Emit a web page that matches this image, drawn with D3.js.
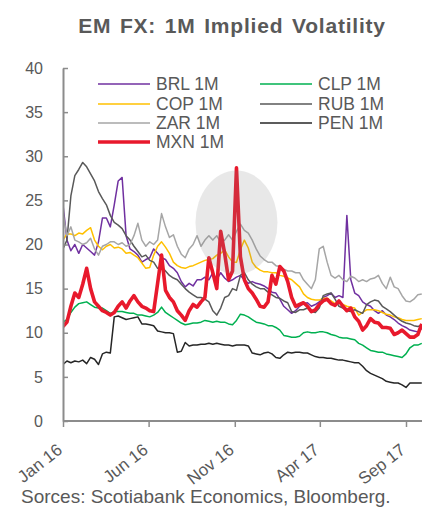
<!DOCTYPE html>
<html><head><meta charset="utf-8">
<script src="https://cdn.jsdelivr.net/npm/d3@7"></script>
<style>body{margin:0;background:#fff} text{font-family:"Liberation Sans",Arial,sans-serif}</style>
</head><body><svg id="c" width="422" height="508"></svg>
<script>
// ---- data ----
const seriesNames = ["BRL 1M","CLP 1M","COP 1M","RUB 1M","ZAR 1M","PEN 1M","MXN 1M"];
const seriesColors = ["#7030A0","#00B050","#FFC000","#595959","#A6A6A6","#262626","#E8192C"];
const startDate = "2016-01-01"; // weekly observations
const brl = [24.5,20.5,19.3,20.0,19.0,20.0,19.6,19.2,18.8,20.3,23.0,23.0,22.0,24.5,27.2,27.6,21.0,19.5,19.2,18.8,18.0,18.3,18.5,19.5,19.0,18.5,18.3,17.6,17.3,16.8,15.8,15.2,15.6,15.3,16.0,16.0,16.3,16.0,16.8,16.0,16.8,16.2,15.8,16.0,16.3,16.5,16.0,15.6,15.8,15.6,15.5,15.3,15.0,14.6,14.5,13.8,13.0,12.6,12.2,12.5,13.0,13.3,13.4,13.0,13.2,13.5,14.0,14.2,14.5,14.0,14.2,14.0,23.3,16.0,14.5,14.2,13.5,13.2,13.0,12.5,12.2,12.5,12.0,11.8,11.5,11.1,10.8,10.6,10.3,10.2,10.1,10.5];
const clp = [11.2,11.5,12.3,12.9,13.3,13.4,13.5,13.2,12.9,12.8,12.8,12.5,12.2,12.4,12.4,12.4,12.3,12.2,12.2,12.0,12.0,11.9,11.8,12.0,12.3,12.9,12.3,12.0,11.7,11.4,11.1,10.9,11.0,11.1,11.1,11.2,11.4,11.3,11.2,11.3,11.2,11.2,11.0,10.9,11.4,12.1,12.0,11.8,11.5,11.2,11.1,11.0,10.8,10.8,10.6,10.3,9.7,9.6,9.5,9.5,9.6,10.0,10.1,10.0,10.0,10.1,10.1,10.0,9.8,9.7,9.5,9.4,9.4,9.3,9.2,8.8,8.6,8.3,8.0,7.9,7.8,7.8,7.6,7.5,7.4,7.3,7.2,7.6,8.3,8.6,8.6,8.8];
const cop = [20.5,21.2,21.2,21.0,21.3,21.2,21.6,21.9,20.5,19.8,19.4,19.8,20.0,19.6,19.7,19.5,19.0,19.1,18.8,18.5,17.9,17.3,17.4,18.8,19.8,20.3,19.7,19.0,18.0,17.6,17.4,17.3,17.5,17.6,17.8,18.0,18.2,18.3,18.4,18.8,19.0,19.4,18.6,18.0,18.0,19.4,20.5,19.6,18.0,17.4,17.1,16.9,16.9,16.8,16.8,16.5,16.4,16.2,16.0,15.6,15.2,14.4,14.0,13.8,13.7,13.7,13.9,13.9,13.6,13.3,13.4,13.2,13.0,12.9,12.8,12.0,12.3,12.6,12.6,12.6,12.5,12.3,12.1,12.0,11.8,11.7,11.5,11.4,11.4,11.4,11.5,11.6];
const rub = [19.5,20.5,25.5,27.8,28.5,29.3,28.8,28.0,27.2,26.0,25.2,24.5,23.3,22.5,22.2,21.8,21.0,20.5,19.8,19.2,18.6,18.8,18.2,18.0,17.3,17.5,17.0,16.5,16.2,16.0,15.5,15.0,14.6,14.3,14.0,14.0,13.8,13.5,12.5,12.0,12.8,14.0,14.2,15.0,14.8,16.5,16.8,16.0,15.5,15.2,15.0,15.0,14.6,14.3,14.0,13.9,13.6,13.4,12.4,12.3,12.6,12.6,12.8,12.4,12.3,12.8,14.2,14.4,14.5,13.8,13.0,12.8,12.5,12.4,12.6,12.4,12.2,13.2,13.5,13.7,13.6,13.0,12.7,12.4,12.0,11.6,11.3,11.1,11.0,10.8,10.7,10.9];
const zar = [23.5,21.0,22.0,20.5,20.3,20.0,20.2,20.7,19.5,18.8,19.8,20.0,20.3,20.3,20.0,20.2,19.8,20.0,21.0,22.4,20.5,19.8,20.3,20.0,20.5,23.5,22.0,20.8,21.1,19.8,18.9,18.5,19.5,20.0,21.0,19.8,20.5,21.0,20.5,21.0,20.2,20.5,21.1,20.5,21.5,22.3,21.6,21.3,20.5,19.5,18.7,18.3,18.0,18.0,17.6,17.5,17.2,17.0,17.0,16.8,16.8,16.0,15.5,15.0,16.0,19.5,19.8,18.0,16.5,16.2,16.5,16.0,15.8,16.4,16.2,15.8,16.0,15.8,16.1,16.2,16.5,15.6,15.0,16.3,15.2,15.0,14.2,13.6,13.5,13.8,14.3,14.4];
const pen = [6.4,6.8,6.6,6.8,6.7,6.9,6.5,7.2,7.0,6.4,7.6,7.8,7.7,11.8,11.9,11.7,11.5,11.6,11.7,11.8,11.0,11.0,10.9,10.8,10.2,10.1,10.0,10.0,9.9,7.8,7.9,8.9,8.5,8.6,8.6,8.7,8.7,8.8,8.7,8.8,8.7,8.6,8.6,8.5,8.6,8.6,8.6,8.5,7.7,7.6,7.5,7.7,7.8,7.6,7.2,7.1,7.5,7.8,7.7,7.8,7.8,7.7,7.7,7.5,7.3,7.2,7.2,7.1,7.1,7.0,6.9,6.9,6.8,6.7,6.6,6.6,6.2,5.7,5.4,5.2,5.0,4.8,4.5,4.4,4.3,4.3,4.1,3.8,4.3,4.3,4.3,4.3];
const mxn = [10.7,11.2,13.0,14.5,14.0,15.5,17.3,15.0,13.5,13.0,12.5,12.3,12.0,12.3,13.0,13.5,12.8,13.6,14.2,13.5,13.0,12.8,12.5,12.4,15.6,18.8,14.8,14.0,13.5,12.5,12.0,11.4,12.5,13.2,12.9,13.5,14.0,18.5,16.8,15.0,21.5,19.0,16.0,17.0,28.7,18.6,16.0,15.0,14.5,13.8,13.0,12.9,13.5,16.5,15.5,17.5,17.0,15.8,14.0,13.0,13.2,13.4,13.0,12.4,12.6,13.2,13.6,13.8,13.3,13.1,13.6,13.0,12.5,12.8,11.8,11.3,10.3,10.8,11.6,11.2,11.1,10.6,10.6,10.5,9.8,10.0,10.3,9.9,9.5,9.5,9.8,11.0];
const xTickDates = ["2016-01-01","2016-06-01","2016-11-01","2017-04-01","2017-09-01"];
const xTickLabels = ["Jan 16","Jun 16","Nov 16","Apr 17","Sep 17"];
const yTicks = [0,5,10,15,20,25,30,35,40];
const title = "EM FX: 1M Implied Volatility";
const source = "Sorces: Scotiabank Economics, Bloomberg.";
const highlightDate = "2016-11-04", highlightValue = 22.5;

// ---- chart ----
const parse = d3.utcParse("%Y-%m-%d");
const t0 = parse(startDate);
const allSeries = [brl, clp, cop, rub, zar, pen, mxn];
const dates = brl.map((_, i) => d3.utcDay.offset(t0, 7 * i));

const svg = d3.select("#c");
const x = d3.scaleUtc().domain([parse("2016-01-01"), parse("2017-09-01")]).range([63, 406]);
const y = d3.scaleLinear().domain([0, 40]).range([421, 68]);
const grey = "#595959";

svg.append("text").attr("x", 232).attr("y", 33).attr("text-anchor", "middle")
  .attr("font-size", 21).attr("font-weight", "bold").attr("fill", grey)
  .attr("letter-spacing", 0.8).attr("word-spacing", 2).text(title);

svg.append("clipPath").attr("id", "pc").append("rect")
  .attr("x", 63).attr("y", 60).attr("width", 359).attr("height", 362);

const line = d3.line().x((d, i) => x(dates[i])).y(d => y(d));
const g = svg.append("g").attr("clip-path", "url(#pc)");
allSeries.forEach((s, k) => {
  g.append("path").datum(s).attr("d", line).attr("fill", "none")
    .attr("stroke", seriesColors[k]).attr("stroke-width", k === 6 ? 3.6 : 1.5)
    .attr("stroke-linejoin", "round");
});

// highlight ellipse
svg.append("ellipse").attr("cx", x(parse(highlightDate))).attr("cy", y(highlightValue))
  .attr("rx", 41).attr("ry", 52).attr("fill", "#808080").attr("fill-opacity", 0.18);

// axes
const yAxis = d3.axisLeft(y).tickValues(yTicks).tickSizeInner(-5).tickSizeOuter(0).tickPadding(20);
const ya = svg.append("g").attr("transform", "translate(63,0)").call(yAxis);
ya.select(".domain").attr("stroke", "#8C8C8C").attr("stroke-width", 2);
ya.selectAll(".tick line").attr("stroke", "#8C8C8C").attr("stroke-width", 1.5);
ya.selectAll(".tick text").attr("font-size", 16).attr("fill", grey)
  .attr("font-family", "Liberation Sans, Arial, sans-serif");

const xAxis = d3.axisBottom(x).tickValues(xTickDates.map(parse)).tickSizeInner(6).tickSizeOuter(0)
  .tickFormat((d, i) => xTickLabels[i]);
const xa = svg.append("g").attr("transform", "translate(0,421)").call(xAxis);
xa.select(".domain").attr("stroke", "#8C8C8C").attr("stroke-width", 2).attr("d", "M63,0H422");
xa.selectAll(".tick line").attr("stroke", "#8C8C8C").attr("stroke-width", 1.5);
xa.selectAll(".tick text").attr("font-size", 17).attr("fill", grey)
  .attr("font-family", "Liberation Sans, Arial, sans-serif")
  .attr("text-anchor", "end").attr("dy", 0).attr("y", 0)
  .attr("transform", "translate(0,31) rotate(-38)");

// legend
const legPos = [[98,84],[260,84],[98,104],[260,104],[98,123],[260,123],[98,142]];
seriesNames.forEach((n, k) => {
  const [lx, ly] = legPos[k];
  svg.append("line").attr("x1", lx).attr("x2", lx + 52).attr("y1", ly).attr("y2", ly)
    .attr("stroke", seriesColors[k]).attr("stroke-width", k === 6 ? 3.6 : 1.5);
  svg.append("text").attr("x", lx + 58).attr("y", ly).attr("dy", "0.36em")
    .attr("font-size", 17.5).attr("fill", grey).text(n);
});

svg.append("text").attr("x", 21).attr("y", 503).attr("font-size", 19).attr("fill", grey).text(source);
</script></body></html>
